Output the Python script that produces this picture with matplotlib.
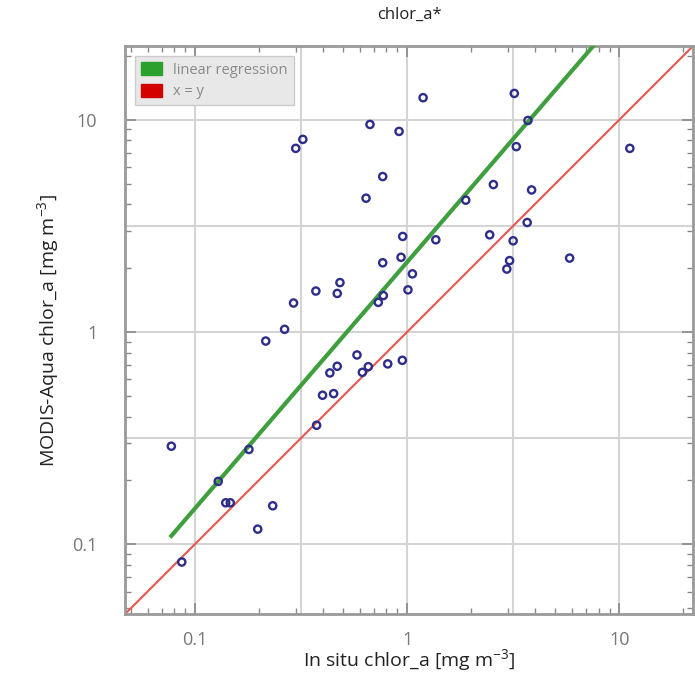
import numpy as np
import matplotlib
matplotlib.use("Agg")
import matplotlib.pyplot as plt
from matplotlib.patches import Patch
from matplotlib.ticker import LogLocator, NullFormatter

plt.rcParams["font.family"] = ["Open Sans", "DejaVu Sans"]
plt.rcParams["mathtext.fontset"] = "custom"
plt.rcParams["mathtext.rm"] = "Open Sans"

# in situ vs satellite chlor_a [mg m-3]
in_situ = [0.299, 0.323, 0.669, 0.917, 1.19, 3.20, 3.71, 3.27, 11.2, 0.641,
           0.768, 2.55, 3.86, 1.89, 3.68, 0.954, 1.366, 2.45, 3.16, 0.937,
           0.768, 5.83, 3.04, 2.95, 1.06, 0.483, 0.372, 0.469, 1.01, 0.773,
           0.732, 0.292, 0.265, 0.216, 0.581, 0.469, 0.433, 0.657, 0.616, 0.811,
           0.950, 0.400, 0.451, 0.375, 0.0776, 0.180, 0.129, 0.140, 0.147, 0.233,
           0.198, 0.0869]
modis = [7.33, 8.08, 9.50, 8.81, 12.7, 13.3, 9.92, 7.47, 7.33, 4.27,
         5.40, 4.95, 4.67, 4.18, 3.28, 2.82, 2.72, 2.87, 2.69, 2.25,
         2.12, 2.23, 2.17, 1.98, 1.88, 1.71, 1.56, 1.52, 1.58, 1.485,
         1.38, 1.37, 1.03, 0.907, 0.78, 0.69, 0.642, 0.687, 0.646, 0.708,
         0.736, 0.504, 0.513, 0.364, 0.290, 0.280, 0.198, 0.157, 0.157, 0.152,
         0.118, 0.0826]

# regression in log space: log10(y) = intercept + slope * log10(x)
fit_slope = 1.161
fit_intercept = 0.329

lims = (0.047, 22.2)

fig = plt.figure(figsize=(6.95, 6.79), dpi=100)
ax = fig.add_axes([0.18, 0.0957, 0.817, 0.8363])
ax.set_xscale("log")
ax.set_yscale("log")
ax.set_xlim(lims)
ax.set_ylim(lims)

grid_vals = [0.1, 10 ** -0.5, 1, 10 ** 0.5, 10]
for v in grid_vals:
    ax.axvline(v, color="#d4d4d4", lw=1.5, zorder=0)
    ax.axhline(v, color="#d4d4d4", lw=1.5, zorder=0)

ax.plot(lims, lims, color="#e8574f", lw=1.5, zorder=2)

xs = np.array([min(in_situ), max(in_situ)])
ax.plot(xs, 10 ** (fit_intercept + fit_slope * np.log10(xs)),
        color="#3f9f3f", lw=3, zorder=3)

ax.scatter(in_situ, modis, s=27, facecolors="none", edgecolors="#2e2e8a",
           linewidths=1.7, zorder=4)

ax.set_xticks([0.1, 1, 10])
ax.set_yticks([0.1, 1, 10])
ax.set_xticklabels(["0.1", "1", "10"])
ax.set_yticklabels(["0.1", "1", "10"])
for a in (ax.xaxis, ax.yaxis):
    a.set_minor_locator(LogLocator(base=10, subs=np.arange(2, 10)))
    a.set_minor_formatter(NullFormatter())
ax.tick_params(which="both", direction="in", top=True, right=True,
               color="#888888", labelcolor="#777777", labelsize=13)
ax.tick_params(axis="x", which="major", length=8, width=1.2, pad=12)
ax.tick_params(axis="y", which="major", length=8, width=1.2, pad=20)
ax.tick_params(which="minor", length=4, width=1)
for s in ax.spines.values():
    s.set_color("#999999")
    s.set_linewidth(2)

ax.set_title("chlor_a*", fontsize=12, color="#222222", pad=20)
ax.set_xlabel("In situ chlor_a [mg m$^{-3}$]", fontsize=14, color="#222222",
              labelpad=-1)
ax.set_ylabel("MODIS-Aqua chlor_a [mg m$^{-3}$]", fontsize=14,
              color="#222222", labelpad=7)

handles = [Patch(facecolor="#2ca02c", edgecolor="#2ca02c", label="linear regression"),
           Patch(facecolor="#d40000", edgecolor="#d40000", label="x = y")]
leg = ax.legend(handles=handles, loc="upper left", fontsize=10.5,
                facecolor="#e8e8e8", edgecolor="#cccccc", framealpha=1,
                fancybox=False, borderaxespad=0.7, handlelength=1.4,
                handleheight=1.0, labelspacing=0.4)
for t in leg.get_texts():
    t.set_color("#8a8a8a")

plt.savefig("out.png", dpi=100)
plt.close()
